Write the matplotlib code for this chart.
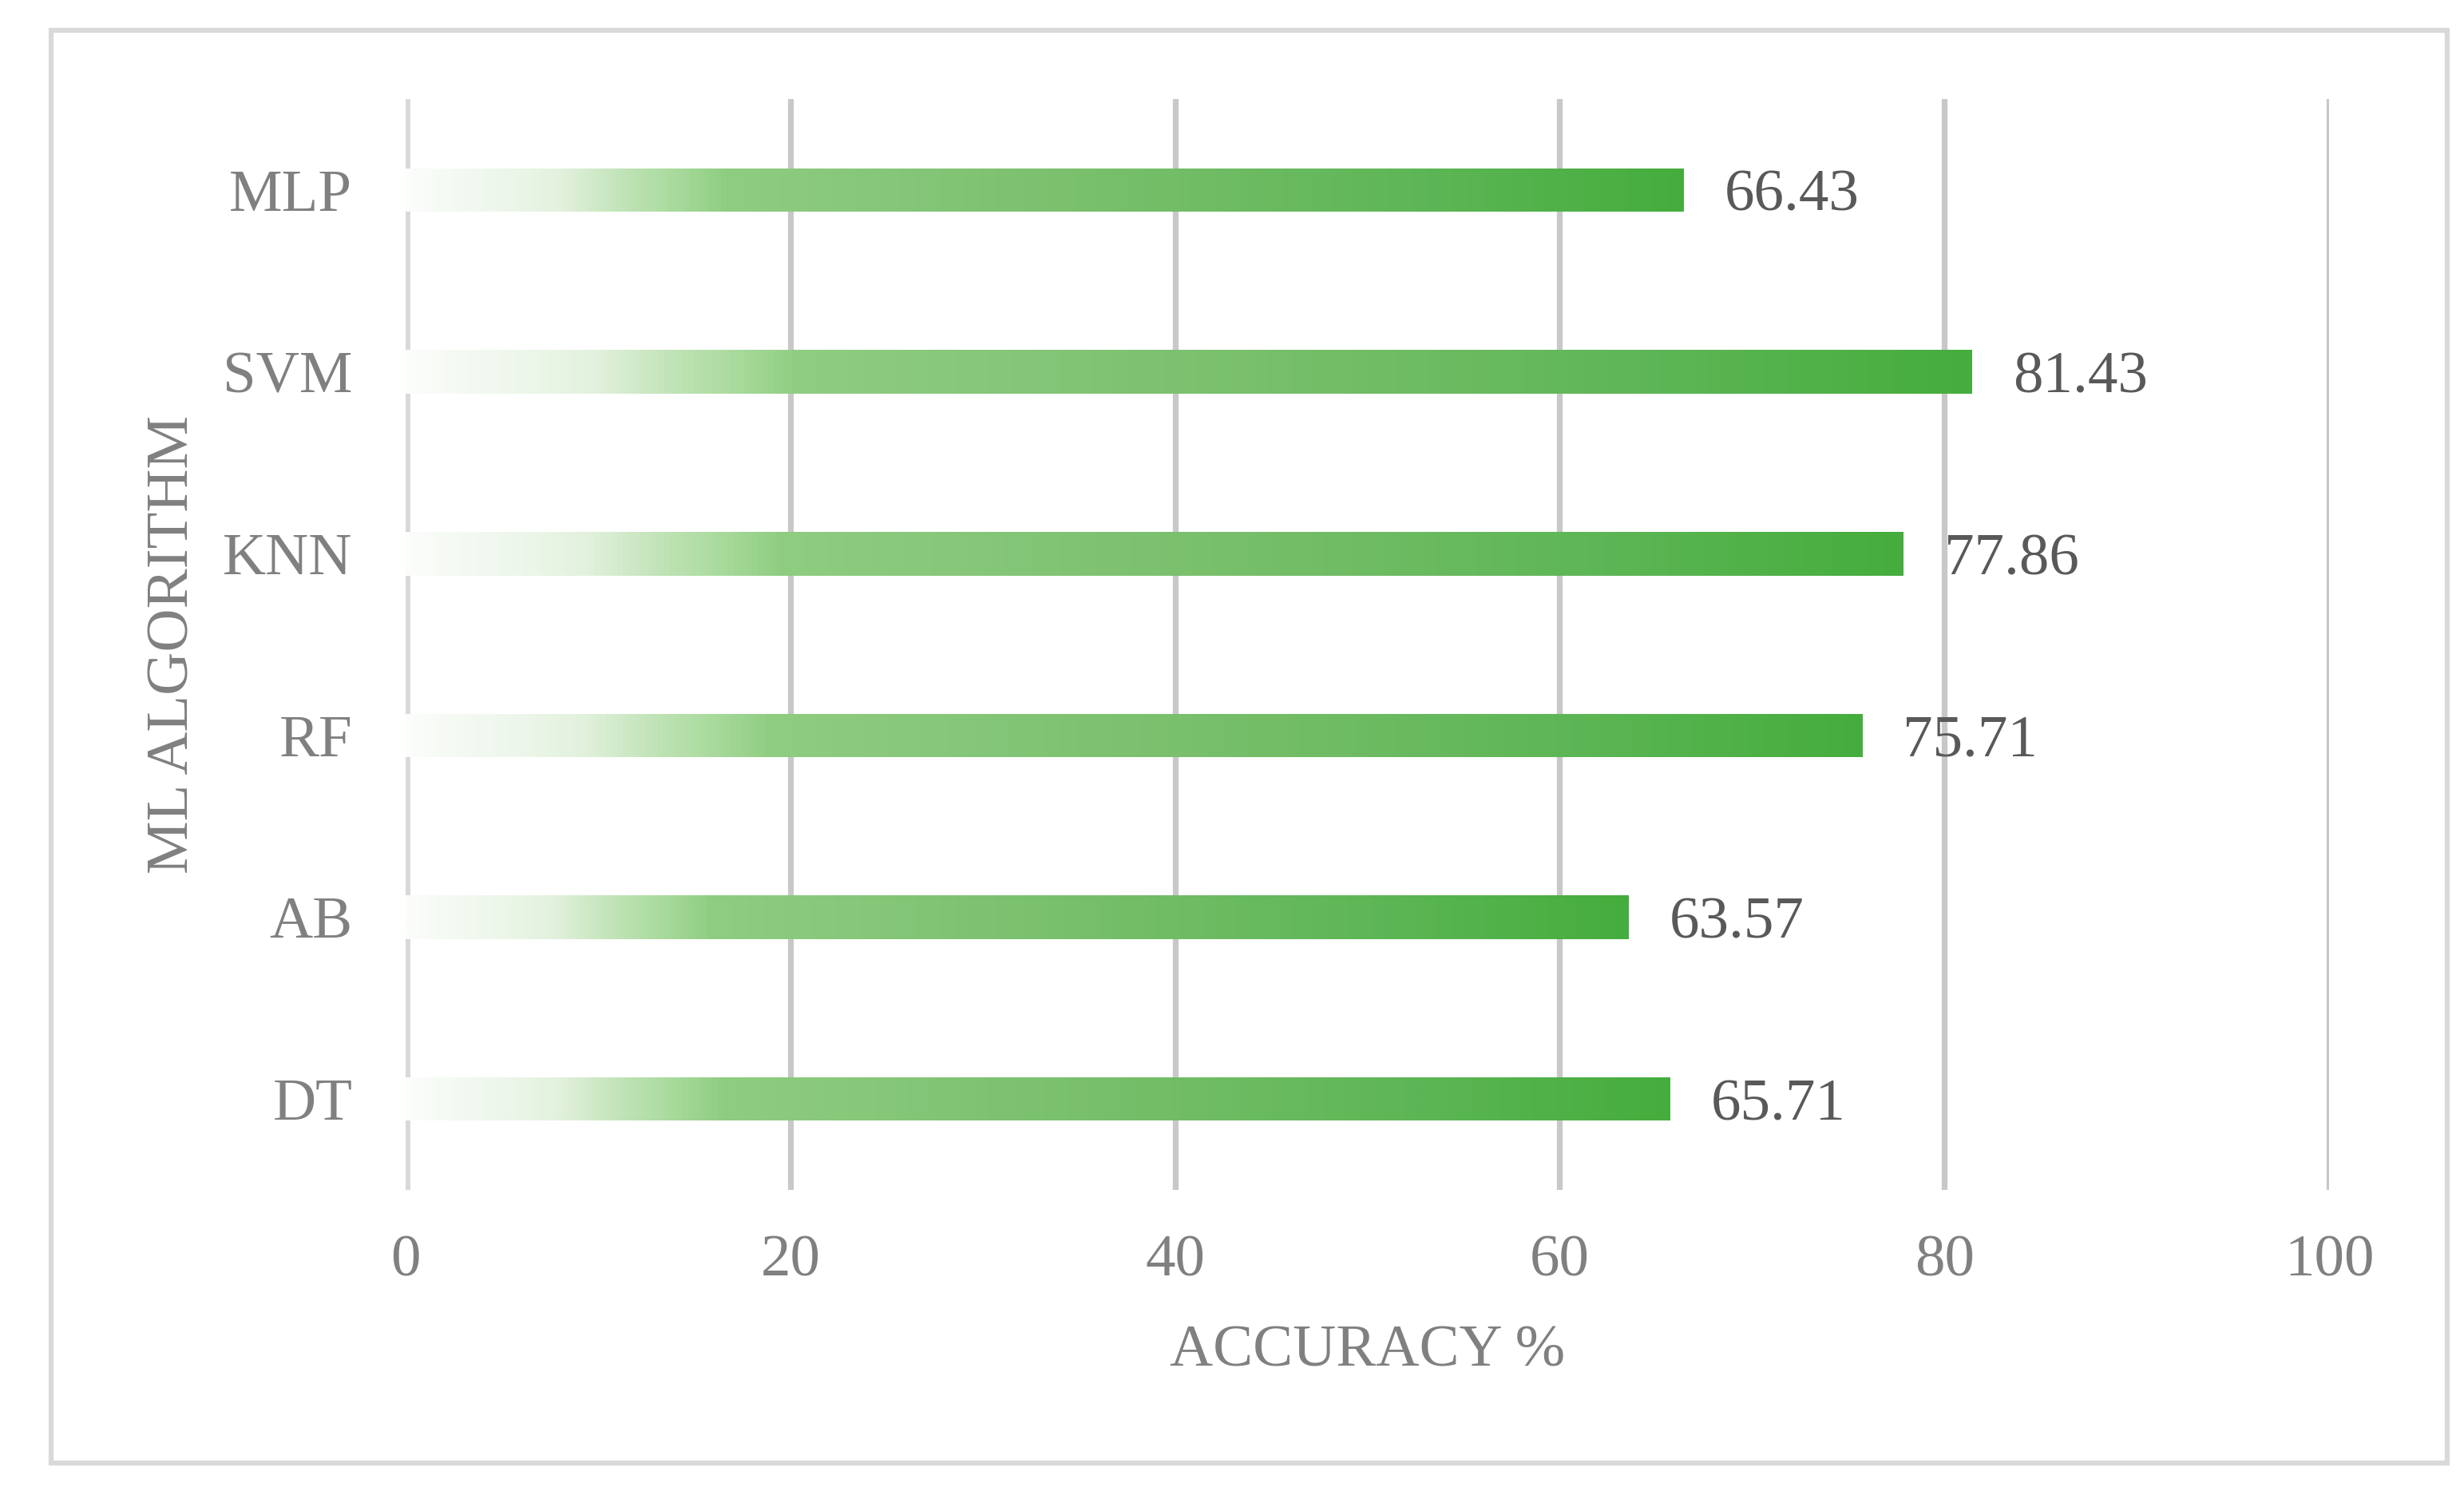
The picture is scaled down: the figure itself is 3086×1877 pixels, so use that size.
"""plot.py

ML algorithm accuracy, horizontal bars with a white-to-green gradient fill.
-- output  out.png
"""

import numpy as np
import matplotlib.pyplot as plt
from matplotlib.colors import LinearSegmentedColormap
from matplotlib.patches import Rectangle

# data, bottom to top
algorithms = ["DT", "AB", "RF", "KNN", "SVM", "MLP"]
accuracy = [65.71, 63.57, 75.71, 77.86, 81.43, 66.43]
x_ticks = [0, 20, 40, 60, 80, 100]

# gradient used inside every bar (0 = bar start, 1 = bar end)
green_fade = LinearSegmentedColormap.from_list("green_fade", [
    (0.00, "#fbfdfa"),
    (0.07, "#eef7ec"),
    (0.12, "#e2f1dd"),
    (0.17, "#c0e3b6"),
    (0.21, "#a8da9c"),
    (0.25, "#8fcd81"),
    (0.35, "#88c87b"),
    (0.55, "#78bf6b"),
    (0.80, "#5db655"),
    (1.00, "#45ad3d"),
])

plt.rcParams['font.family'] = ['Liberation Serif', 'DejaVu Serif']

TICK_GREY = "#808080"
LABEL_GREY = "#595959"

fig = plt.figure(figsize=(30.86, 18.77), dpi=100)
ax = fig.add_axes([0.1646, 0.2062, 0.7807, 0.7277])

# outer frame of the chart area
fig.patches.append(Rectangle((0.0209, 0.024), 0.9723, 0.9558, transform=fig.transFigure,
                             fill=False, edgecolor="#d9d9d9", linewidth=4.5))

y = np.arange(len(algorithms))
bar_h = 0.24

# transparent bars, filled by a clipped gradient image
bars = ax.barh(y, accuracy, height=bar_h, color="none", edgecolor="none", zorder=3)
grad = np.linspace(0, 1, 512).reshape(1, -1)
for bar, val, yy in zip(bars, accuracy, y):
    im = ax.imshow(grad, cmap=green_fade, aspect="auto", interpolation="bilinear",
                   extent=[0, val, yy - bar_h / 2, yy + bar_h / 2], zorder=3)
    im.set_clip_path(bar)
    ax.annotate(f"{val:.2f}", xy=(val, yy), xytext=(37, -6), textcoords="offset points",
                ha="left", va="center", fontsize=54, color=LABEL_GREY, zorder=4)

ax.set_xlim(0, 100)
ax.set_ylim(-0.5, len(algorithms) - 0.5)
ax.set_xticks(x_ticks)
ax.set_yticks(y)
ax.set_yticklabels(algorithms)

# gridlines, the zero line is paler and wider
for xv in x_ticks[1:]:
    ax.axvline(xv, color="#c8c8c8", linewidth=5.2, zorder=1)
ax.axvline(0, color="#d9d9d9", linewidth=8.6, zorder=1)

for s in ax.spines.values():
    s.set_visible(False)
ax.tick_params(axis="both", length=0, labelsize=54, labelcolor=TICK_GREY)
ax.tick_params(axis="x", pad=40)
ax.tick_params(axis="y", pad=48)

ax.set_xlabel("ACCURACY %", fontsize=54, color=TICK_GREY, labelpad=33)
ax.set_ylabel("ML ALGORITHM", fontsize=54, color=TICK_GREY, labelpad=20)

fig.savefig("out.png", dpi=100)
